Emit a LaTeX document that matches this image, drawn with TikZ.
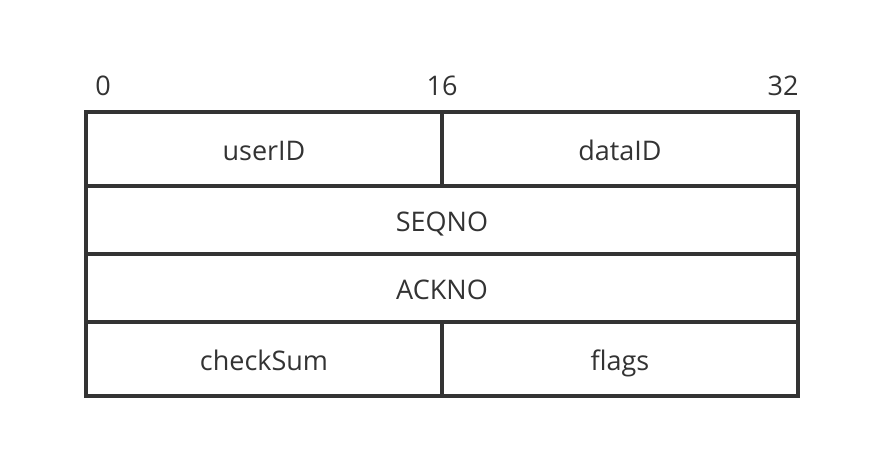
\documentclass[tikz,border=0pt]{standalone}
\usepackage{fontspec}
\setmainfont{Open Sans}
\definecolor{linegray}{HTML}{333333}
\tikzset{
	cell/.style={draw=linegray, line width=3.5pt, rectangle, inner sep=0pt, outer sep=0pt, text=linegray, text height=26pt, text depth=4pt, font=\fontsize{27}{32}\selectfont},
	halfcell/.style={cell, minimum width=356pt},
	fullcell/.style={cell, minimum width=712pt},
	bitlabel/.style={inner sep=0pt, text=linegray, font=\fontsize{27}{32}\selectfont},
}

\begin{document}
\begin{tikzpicture}[x=1pt,y=-1pt]
			%%%%% START %%%%%
			
			\useasboundingbox (0,0) rectangle (886,448);
			
			\node[halfcell, minimum height=74pt] (userid) at (264, 149) {userID};
			\node[halfcell, minimum height=74pt] (dataid) at (620, 149) {dataID};
			
			\node[fullcell, minimum height=68pt] (seqno) at (442, 220) {SEQNO};
			\node[fullcell, minimum height=68pt] (ackno) at (442, 288) {ACKNO};
			
			\node[halfcell, minimum height=74pt] (checksum) at (264, 359) {checkSum};
			\node[halfcell, minimum height=74pt] (flags) at (620, 359) {flags};
			
			\node[bitlabel] (bit0) at (103, 86) {0};
			\node[bitlabel] (bit16) at (442, 86) {16};
			\node[bitlabel] (bit32) at (783, 86) {32};
			
			%%%%% END %%%%%
\end{tikzpicture}
\end{document}
